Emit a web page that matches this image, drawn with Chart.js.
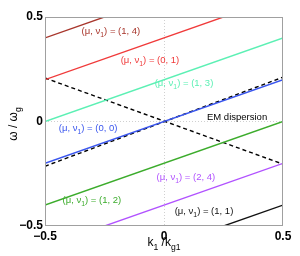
<!DOCTYPE html>
<html>
<head>
<meta charset="utf-8">
<script src="https://cdn.jsdelivr.net/npm/chart.js@4"></script>
<style>
  html, body { margin: 0; padding: 0; background: #fff; }
  #wrap { width: 300px; height: 256px; }
</style>
</head>
<body>
<div id="wrap"><canvas id="chart" width="300" height="256"></canvas></div>
<script>
// band lines (mu, nu1): endpoints at k = -0.5 and k = 0.5
const kEnds = [-0.5, 0.5];
const modeNames = ['(1, 4)', '(0, 1)', '(1, 3)', '(0, 0)', '(1, 2)', '(2, 4)', '(1, 1)'];
const modeOmega = [
    [0.40, 0.80],
    [0.20, 0.60],
    [0.00, 0.40],
    [-0.20, 0.20],
    [-0.40, 0.00],
    [-0.60, -0.20],
    [-0.80, -0.40]
];
const modeColors = ['#a8362c', '#f03a3a', '#5cf0b4', '#3a56ee', '#3cac2c', '#b152ff', '#111111'];

// EM dispersion (dashed)
const emUp = [-0.214, 0.212];
const emDown = [0.208, -0.204];

// label anchors (data coords, text centre)
const labelK = [-0.223, -0.059, 0.084, -0.319, -0.303, 0.092, 0.168];
const labelW = [0.433, 0.294, 0.184, -0.031, -0.376, -0.266, -0.428];
const emLabelAt = [0.307, 0.022];

const tickLabels = { '-0.5': '\u22120.5', '0': '0', '0.5': '0.5' };

const datasets = [];
modeNames.forEach((name, i) => {
    datasets.push({
        label: name,
        data: kEnds.map((k, j) => ({ x: k, y: modeOmega[i][j] })),
        borderColor: modeColors[i],
        borderWidth: 1.4,
        pointRadius: 0,
        clip: 0
    });
});
[emUp, emDown].forEach((w, i) => {
    datasets.push({
        label: 'EM ' + i,
        data: kEnds.map((k, j) => ({ x: k, y: w[j] })),
        borderColor: '#000',
        borderWidth: 1.4,
        borderDash: [4, 3],
        pointRadius: 0,
        clip: 0
    });
});

// draw text with a subscript part: parts = [[text, isSub], ...]
function drawParts(ctx, parts, x, y, size, align) {
    const subSize = size * 0.72;
    let total = 0;
    parts.forEach(p => {
        ctx.font = (p[1] ? subSize : size) + 'px "Liberation Sans", Arial, sans-serif';
        total += ctx.measureText(p[0]).width;
    });
    let cx = align === 'center' ? x - total / 2 : x;
    ctx.textAlign = 'left';
    ctx.textBaseline = 'alphabetic';
    parts.forEach(p => {
        ctx.font = (p[1] ? subSize : size) + 'px "Liberation Sans", Arial, sans-serif';
        ctx.fillText(p[0], cx, p[1] ? y + size * 0.3 : y);
        cx += ctx.measureText(p[0]).width;
    });
}

const overlay = {
    id: 'overlay',
    afterDatasetsDraw(chart) {
        const ctx = chart.ctx;
        const xs = chart.scales.x, ys = chart.scales.y;
        const a = chart.chartArea;
        ctx.save();
        // frame
        ctx.strokeStyle = '#a0a0a0';
        ctx.lineWidth = 1;
        ctx.strokeRect(a.left + 0.5, a.top + 0.5, a.right - a.left - 1, a.bottom - a.top - 1);
        // mode labels
        modeNames.forEach((name, i) => {
            ctx.fillStyle = modeColors[i];
            const px = xs.getPixelForValue(labelK[i]);
            const py = ys.getPixelForValue(labelW[i]) + 3;
            drawParts(ctx, [['(\u03bc, \u03bd', false], ['1', true], [') = ' + name, false]], px, py, 9.5, 'center');
        });
        ctx.fillStyle = '#000';
        drawParts(ctx, [['EM dispersion', false]], xs.getPixelForValue(emLabelAt[0]), ys.getPixelForValue(emLabelAt[1]) + 3, 9.5, 'center');
        // axis titles
        drawParts(ctx, [['k', false], ['1', true], [' /k', false], ['g1', true]], 164, 246, 12, 'center');
        ctx.translate(17, 124);
        ctx.rotate(-Math.PI / 2);
        drawParts(ctx, [['\u03c9 / \u03c9', false], ['g', true]], 0, 0, 12, 'center');
        ctx.restore();
    }
};

const tickFont = { family: '"Liberation Sans", Arial, sans-serif', size: 12, weight: 'bold' };
const zeroGrid = {
    color: (c) => c.tick && c.tick.value === 0 ? '#d0d0d0' : 'rgba(0,0,0,0)',
    lineWidth: 1,
    drawTicks: false
};

new Chart(document.getElementById('chart'), {
    type: 'line',
    data: { datasets: datasets },
    options: {
        responsive: false,
        animation: false,
        events: [],
        layout: { padding: { top: 17, right: 17, left: 0, bottom: 0 } },
        plugins: { legend: { display: false }, tooltip: { enabled: false } },
        scales: {
            x: {
                type: 'linear',
                min: -0.5, max: 0.5,
                border: { display: false, dash: [1, 2] },
                grid: zeroGrid,
                ticks: {
                    stepSize: 0.5,
                    color: '#000',
                    font: tickFont,
                    padding: 3,
                    maxRotation: 0,
                    callback: (v) => tickLabels[String(v)]
                },
                afterFit: (s) => { s.height = 30; }
            },
            y: {
                type: 'linear',
                min: -0.5, max: 0.5,
                border: { display: false, dash: [1, 2] },
                grid: zeroGrid,
                ticks: {
                    stepSize: 0.5,
                    color: '#000',
                    font: tickFont,
                    padding: 2,
                    callback: (v) => tickLabels[String(v)]
                },
                afterFit: (s) => { s.width = 45; }
            }
        }
    },
    plugins: [overlay]
});
</script>
</body>
</html>
